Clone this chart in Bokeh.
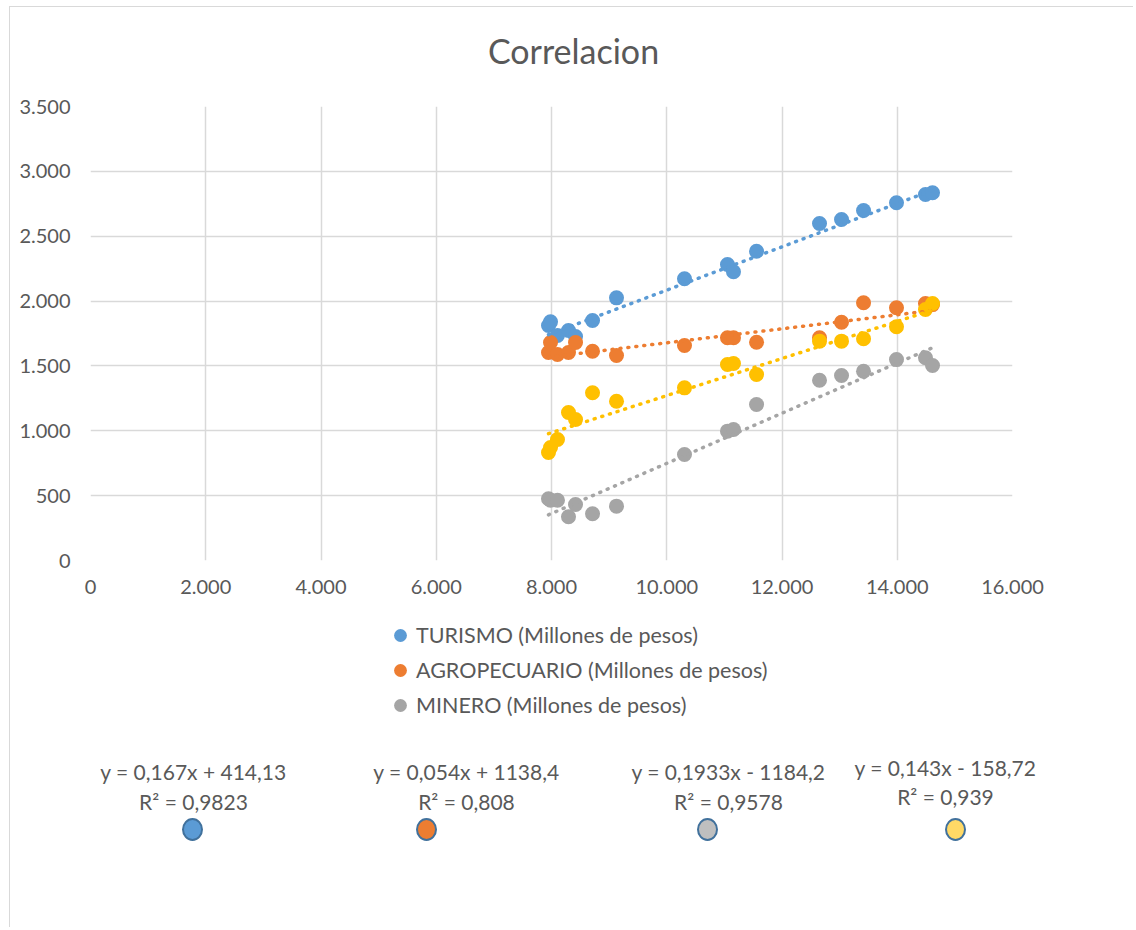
from bokeh.plotting import figure
from bokeh.models import Range1d, Legend, LegendItem
from bokeh.layouts import column
from bokeh.embed import file_html
from bokeh.resources import INLINE
from bokeh.core.properties import value

# ---------------- data ----------------
pib = [7948, 7983, 8104, 8295, 8417, 8712, 9128, 10308, 11054, 11158, 11558,
       12651, 13033, 13415, 13987, 14490, 14612]
turismo = [1812, 1840, 1735, 1773, 1727, 1850, 2025, 2172, 2282, 2226, 2384,
           2598, 2629, 2698, 2758, 2822, 2835]
agropecuario = [1603, 1681, 1588, 1603, 1681, 1613, 1580, 1657, 1717, 1717, 1683,
                1717, 1837, 1987, 1948, 1981, 1973]
minero = [476, 465, 465, 337, 432, 360, 419, 817, 997, 1010, 1203,
          1390, 1426, 1459, 1549, 1563, 1503]
serie4 = [833, 871, 933, 1141, 1087, 1293, 1228, 1331, 1511, 1519, 1434,
          1691, 1691, 1709, 1802, 1935, 1981]

series_values = [turismo, agropecuario, minero, serie4]
legend_names = ["TURISMO (Millones de pesos)", "AGROPECUARIO (Millones de pesos)",
                "MINERO (Millones de pesos)"]
colors = ["#5B9BD5", "#ED7D31", "#A5A5A5", "#FFC000"]

slopes = [0.167, 0.054, 0.1933, 0.143]
intercepts = [414.13, 1138.4, -1184.2, -158.72]
eq_texts = ["y = 0,167x + 414,13", "y = 0,054x + 1138,4",
            "y = 0,1933x - 1184,2", "y = 0,143x - 158,72"]
r2_texts = ["R\u00b2 = 0,9823", "R\u00b2 = 0,808", "R\u00b2 = 0,9578", "R\u00b2 = 0,939"]
badge_colors = ["#5B9BD5", "#ED7D31", "#BFBFBF", "#FFD966"]

x_ticks = [0, 2000, 4000, 6000, 8000, 10000, 12000, 14000, 16000]
x_labels = ["0", "2.000", "4.000", "6.000", "8.000", "10.000", "12.000", "14.000", "16.000"]
y_ticks = [0, 500, 1000, 1500, 2000, 2500, 3000, 3500]
y_labels = ["0", "500", "1.000", "1.500", "2.000", "2.500", "3.000", "3.500"]

title_text = "Correlacion"

# ---------------- style ----------------
FONT = "Lato"
TXT = "#595959"
GRID = "#D9D9D9"
W = 1124
HEAD_BOTTOM = 78      # page y where header ends / chart figure begins

# ---------------- header (title) ----------------
h = figure(width=W, height=HEAD_BOTTOM - 7, output_backend="svg", toolbar_location=None,
           x_range=Range1d(10, 10 + W), y_range=Range1d(HEAD_BOTTOM, 7),
           x_axis_location=None, y_axis_location=None,
           min_border_left=0, min_border_right=0, min_border_top=0, min_border_bottom=0,
           styles={"border-left": "1px solid #D9D9D9", "border-top": "1px solid #D9D9D9"})
h.frame_align = False
h.grid.visible = False
h.outline_line_color = None
h.text(x=[573], y=[50], text=[title_text], text_align="center", text_baseline="middle",
       text_font=value(FONT), text_font_size="34px", text_color=TXT)

# ---------------- chart ----------------
CH = 620 - HEAD_BOTTOM
p = figure(width=W, height=CH, output_backend="svg", toolbar_location=None,
           x_range=Range1d(0, 16000), y_range=Range1d(0, 3500),
           min_border_left=80, min_border_right=W - 1002,
           min_border_top=107 - HEAD_BOTTOM, min_border_bottom=620 - 561,
           styles={"border-left": "1px solid #D9D9D9"})
p.frame_align = False
p.outline_line_color = None

p.xaxis.ticker = x_ticks
p.yaxis.ticker = y_ticks
p.xgrid.ticker = x_ticks
p.ygrid.ticker = y_ticks
p.xaxis.major_label_overrides = {t: l for t, l in zip(x_ticks, x_labels)}
p.yaxis.major_label_overrides = {t: l for t, l in zip(y_ticks, y_labels)}
for ax in (p.xaxis[0], p.yaxis[0]):
    ax.axis_line_color = None
    ax.major_tick_line_color = None
    ax.minor_tick_line_color = None
    ax.major_tick_in = 0
    ax.major_tick_out = 0
    ax.minor_tick_in = 0
    ax.minor_tick_out = 0
    ax.major_label_text_font = FONT
    ax.major_label_text_font_size = "20px"
    ax.major_label_text_color = TXT
p.xaxis.major_label_standoff = 19
p.yaxis.major_label_standoff = 20
p.grid.grid_line_color = GRID
p.grid.grid_line_width = 1.5

for vals, c in zip(series_values, colors):
    p.scatter(pib, vals, size=15, fill_color=c, line_color=None)

xs_tr = [min(pib), max(pib)]
for s, b0, c in zip(slopes, intercepts, colors):
    p.line(xs_tr, [s * x + b0 for x in xs_tr], line_color=c, line_width=3.5,
           line_dash="1 7", line_cap="round")

# ---------------- lower area: legend, equations, badges ----------------
BH = 308
b = figure(width=W, height=BH, output_backend="svg", toolbar_location=None,
           x_range=Range1d(10, 10 + W), y_range=Range1d(620 + BH, 620),
           x_axis_location=None, y_axis_location=None,
           min_border_left=0, min_border_right=0, min_border_top=0, min_border_bottom=0,
           styles={"border-left": "1px solid #D9D9D9"})
b.frame_align = False
b.grid.visible = False
b.outline_line_color = None

# legend proxies (single point placed outside the visible area)
proxies = [b.scatter(x=[-1000], y=[-1000], size=12, fill_color=c, line_color=None)
           for c in colors[:3]]
legend = Legend(items=[LegendItem(label=n, renderers=[r]) for n, r in zip(legend_names, proxies)],
                location=(374, 620 + BH - 722), orientation="vertical",
                glyph_width=32, glyph_height=32, label_height=30, spacing=3,
                label_standoff=0, padding=0, margin=0, border_line_color=None,
                background_fill_alpha=0, label_text_font=FONT,
                label_text_font_size="21.5px", label_text_color=TXT,
                label_text_baseline="middle")
b.add_layout(legend)

eq_x = [193, 466, 728, 945]
eq_y = [772, 772, 772, 768]
r2_y = [802, 802, 802, 797]
b.text(x=eq_x, y=eq_y, text=eq_texts, text_align="center", text_baseline="middle",
       text_font=value(FONT), text_font_size="21px", text_color=TXT)
b.text(x=eq_x, y=r2_y, text=r2_texts, text_align="center", text_baseline="middle",
       text_font=value(FONT), text_font_size="21px", text_color=TXT)

badge_x = [192, 426, 707, 955]
badge_y = [830, 830, 830, 830]
b.ellipse(x=badge_x, y=badge_y, width=19, height=21, fill_color=badge_colors,
          line_color="#41719C", line_width=2)

layout = column(h, p, b, spacing=0, margin=(6, 0, 0, 9))
open("out.html", "w").write(file_html(layout, INLINE))
